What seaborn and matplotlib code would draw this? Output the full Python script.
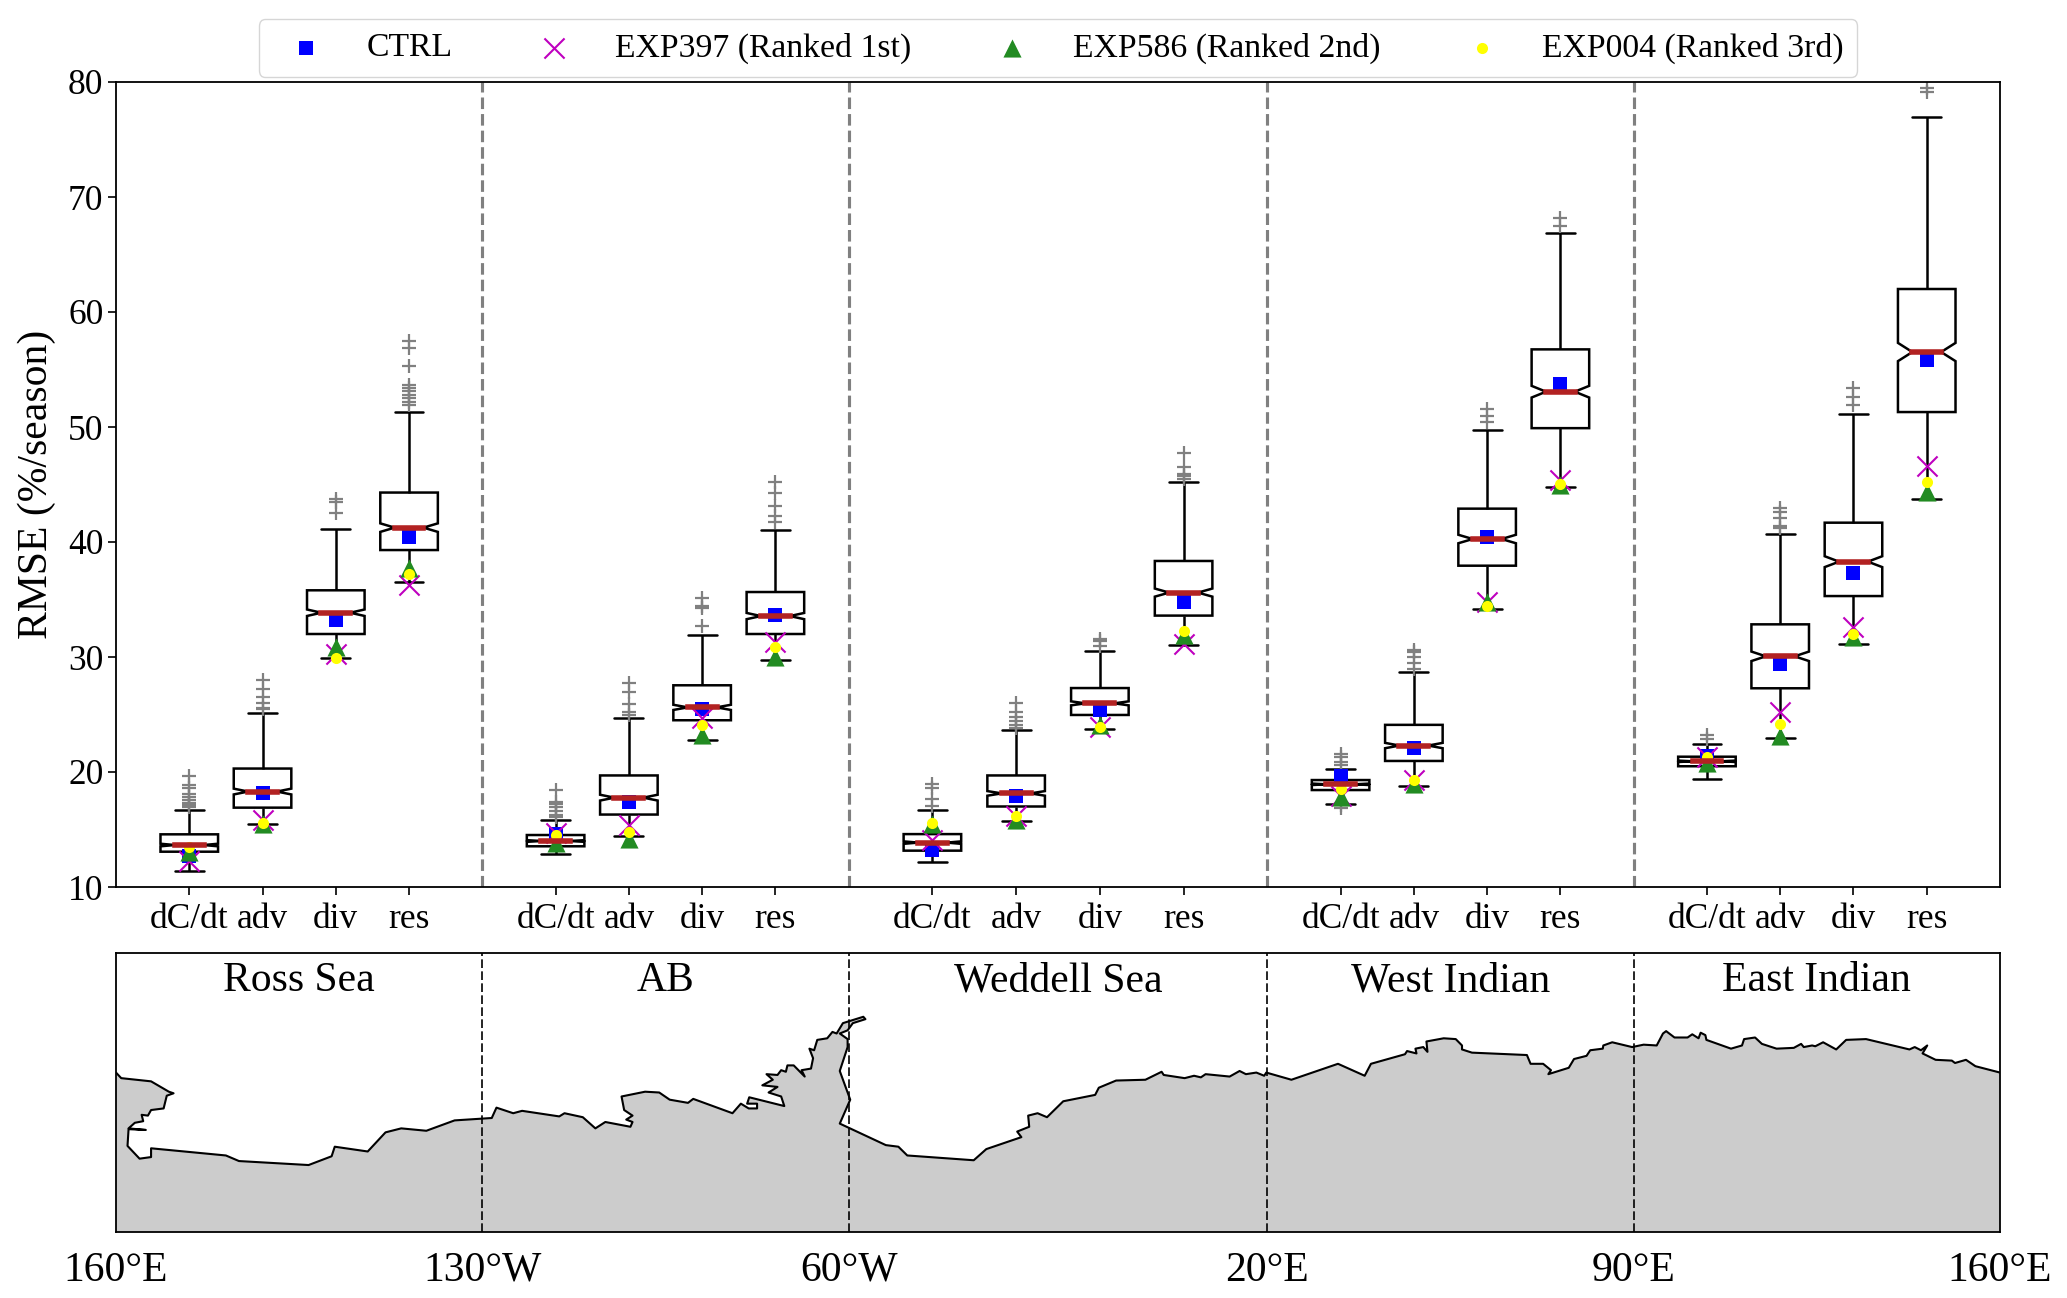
import numpy as np
import pandas as pd
import matplotlib
matplotlib.use("Agg")
import matplotlib.pyplot as plt
import seaborn as sns

sns.set_style("ticks", {"axes.edgecolor": "black", "xtick.color": "black", "ytick.color": "black",
                        "text.color": "black", "axes.labelcolor": "black"})
plt.rcParams['font.family'] = ['Liberation Serif', 'DejaVu Sans']

# longitude is counted in degrees east of 160E
region_edges = [0, 70, 140, 220, 290, 360]
region_names = ['Ross Sea', 'AB', 'Weddell Sea', 'West Indian', 'East Indian']
edge_labels = ['160°E', '130°W', '60°W', '20°E', '90°E', '160°E']
terms = ['dC/dt', 'adv', 'div', 'res']

# box statistics, four terms per region
whislo = [11.42, 15.5, 29.9, 36.55,  12.87, 14.43, 22.8, 29.7,
          12.14, 15.77, 23.7, 31.04,  17.25, 18.75, 34.17, 44.8,
          19.36, 23.0, 31.17, 43.7]
q1 = [13.07, 16.9, 32.0, 39.3,  13.54, 16.3, 24.5, 32.0,
      13.16, 17.0, 24.96, 33.6,  18.43, 20.96, 37.94, 49.9,
      20.5, 27.28, 35.3, 51.3]
median = [13.65, 18.3, 33.85, 41.25,  14.0, 17.77, 25.62, 33.56,
          13.86, 18.14, 25.97, 35.6,  18.93, 22.3, 40.26, 53.07,
          20.93, 30.06, 38.29, 56.52]
q3 = [14.58, 20.3, 35.8, 44.3,  14.52, 19.7, 27.54, 35.65,
      14.6, 19.7, 27.3, 38.35,  19.3, 24.1, 42.9, 56.75,
      21.33, 32.84, 41.68, 62.0]
whishi = [16.67, 25.16, 41.1, 51.27,  15.83, 24.7, 31.88, 41.05,
          16.7, 23.65, 30.5, 45.25,  20.26, 28.7, 49.74, 66.84,
          22.46, 40.67, 51.1, 77.0]
fliers = [
    [19.65, 18.9, 18.6, 18.06, 17.8, 17.57, 17.28, 17.1, 16.99],
    [28.0, 27.2, 26.55, 26.03, 25.54, 25.45],
    [43.74, 43.5, 42.5],
    [57.45, 56.87, 55.33, 53.68, 53.4, 53.1, 52.8, 52.52, 52.2, 51.94],
    [18.43, 17.36, 17.19, 16.98, 16.6, 16.26, 16.06],
    [27.7, 26.93, 25.9, 25.25, 24.96],
    [35.1, 34.43, 34.23, 32.7],
    [45.25, 44.3, 43.16, 42.3, 41.77],
    [19.0, 18.64, 17.62, 17.07],
    [26.0, 25.25, 24.8, 24.46, 24.1, 23.8],
    [31.6, 31.4, 30.96],
    [47.7, 46.55, 45.9, 45.7, 45.5],
    [21.57, 21.33, 20.9, 20.65, 17.1, 16.84],
    [30.6, 30.46, 30.03, 29.5, 29.0],
    [51.6, 51.0, 50.46],
    [68.14, 67.5],
    [23.2, 22.84],
    [42.93, 42.58, 42.1, 41.4, 41.25],
    [53.36, 52.64, 51.9],
    [79.45, 79.16],
]

ctrl = [12.7, 18.15, 33.2, 40.46,  14.6, 17.4, 25.45, 33.65,
        13.2, 17.9, 25.4, 34.8,  19.65, 22.1, 40.46, 53.7,
        21.4, 29.4, 37.33, 55.83]
exp397 = [12.3, 15.8, 30.3, 36.3,  14.67, 15.4, 24.7, 31.3,
          14.1, 16.17, 23.94, 31.1,  17.9, 19.3, 34.8, 45.4,
          21.3, 25.2, 32.58, 46.64]
exp586 = [13.07, 15.5, 30.9, 37.7,  13.8, 14.2, 23.2, 30.0,
          15.5, 15.8, 24.1, 31.9,  17.85, 19.0, 34.8, 44.95,
          20.75, 23.1, 31.77, 44.38]
exp004 = [13.5, 15.6, 29.95, 37.25,  14.5, 14.75, 24.1, 30.84,
          15.6, 16.17, 23.94, 32.3,  18.5, 19.3, 34.43, 45.04,
          21.33, 24.17, 31.97, 45.25]

# coastline, degrees east of 160E and latitude
coast_lon = [0.0, 1.0, 6.7, 10.1, 11.0, 9.7, 9.1, 6.7, 6.1, 4.9, 5.2, 3.6, 2.4, 5.7, 2.4, 2.2, 4.5, 6.7, 6.7,
             21.0, 23.5, 36.8, 41.2, 41.8, 48.1, 51.5, 54.5, 59.3, 64.7, 71.8, 72.7, 75.9, 77.6, 84.7, 85.7,
             89.2, 91.6, 93.5, 98.3, 98.7, 97.5, 98.7, 97.1, 96.6, 101.1, 103.8, 105.8, 109.3, 110.3, 117.8,
             119.4, 120.9, 122.5, 122.5, 120.6, 121.0, 127.7, 127.1, 124.7, 126.4, 123.5, 125.5, 124.3, 126.4,
             127.1, 128.0, 128.3, 129.5, 131.6, 131.0, 132.8, 133.2, 132.5, 133.4, 134.0, 135.9, 136.9, 137.7,
             138.9, 142.8, 143.2, 140.8, 139.8, 138.3, 139.8, 139.8, 138.3, 140.3, 138.3, 147.1, 149.5, 151.2,
             163.9, 166.3, 173.0, 172.2, 174.5, 174.3, 176.1, 177.9, 181.0, 187.1,
             187.8, 191.1, 196.7, 199.8, 200.2, 204.2, 206.0, 207.3, 208.2, 212.8, 214.7, 215.9, 217.9, 219.4,
             219.8, 224.6, 233.5, 238.6, 239.8, 246.3, 246.7, 248.5, 248.3, 249.8, 250.6, 250.4, 253.7, 256.0,
             257.2, 257.2, 259.1, 269.6, 270.3, 272.7, 274.2, 273.7, 277.6, 278.6, 281.0, 281.7, 284.1, 284.2,
             285.9, 289.7, 291.9, 294.4, 295.6, 296.2, 297.8, 300.3, 301.2, 302.4, 302.8, 303.7, 303.9, 308.6,
             310.7, 311.1, 313.2, 314.5, 317.3, 320.6, 322.0, 322.5, 324.1, 324.7, 326.2, 328.7, 330.6, 334.4,
             342.7, 343.7, 344.9, 346.1, 345.2, 347.7, 350.8, 351.4, 353.5, 355.3, 360.0]
coast_lat = [-70.0, -70.7, -71.1, -72.4, -72.6, -72.9, -74.5, -74.7, -75.4, -75.3, -76.1, -76.3, -77.0, -77.2, -77.1,
             -79.2, -80.8, -80.6, -79.5, -80.4, -81.1, -81.6, -80.5, -79.3, -79.9, -77.5, -77.0, -77.3, -76.0, -75.7,
             -74.4, -75.1, -74.8, -75.5, -75.1, -75.6, -77.0, -76.2, -76.8, -76.2, -75.9, -75.4, -74.7, -73.0, -72.4,
             -72.5, -73.4, -73.8, -73.3, -75.1, -73.9, -74.5, -74.5, -73.9, -73.9, -73.1, -74.2, -73.0, -72.5, -71.8,
             -71.6, -70.9, -70.2, -70.3, -69.7, -69.9, -69.1, -69.1, -70.5, -69.7, -69.5, -68.2, -67.0, -67.2, -65.9,
             -65.7, -64.9, -65.1, -63.8, -63.0, -63.3, -63.8, -64.7, -65.1, -65.8, -66.8, -69.8, -73.4, -76.4, -79.1,
             -79.3, -80.4, -81.0, -79.6, -78.1, -77.4, -76.8, -75.4, -75.1, -75.6, -73.6, -72.8,
             -71.9, -71.0, -70.9, -69.9, -70.3, -70.7, -70.4, -70.6, -70.2, -70.5, -69.8, -70.2, -70.0, -70.4,
             -70.0, -70.9, -68.9, -70.4, -68.9, -67.7, -67.3, -67.6, -67.0, -66.8, -67.4, -66.1, -65.7, -65.8,
             -66.6, -67.1, -67.5, -67.8, -68.9, -68.9, -69.7, -70.2, -69.4, -68.3, -67.9, -67.2, -67.0, -66.6,
             -66.2, -66.8, -66.5, -66.6, -65.1, -64.8, -65.6, -65.6, -65.2, -65.7, -65.0, -65.3, -65.9, -67.0,
             -66.6, -65.8, -65.6, -66.4, -67.0, -66.9, -66.4, -66.8, -66.6, -66.7, -66.2, -67.1, -65.9, -65.8,
             -67.1, -66.8, -67.2, -66.6, -67.6, -68.4, -68.5, -68.8, -68.4, -69.2, -70.0]


def box_sample(lo, a, m, b, hi, out, half=112):
    # a sample whose quartiles and whiskers land on the values
    upper = [hi] + list(out)
    return [lo] + [a] * half + [m] * half + [b] * half + upper + [b] * (half - len(upper))


# four terms sit evenly inside each region
positions = []
for left, right in zip(region_edges[:-1], region_edges[1:]):
    positions += [left + (right - left) / 5 * k for k in range(1, 5)]

rows = []
for i, pos in enumerate(positions):
    values = box_sample(whislo[i], q1[i], median[i], q3[i], whishi[i], fliers[i])
    rows.append(pd.DataFrame({'lon': pos, 'rmse': values}))
df = pd.concat(rows, ignore_index=True)

W, H = 2067, 1298
fig = plt.figure(figsize=(W / 100, H / 100), dpi=100)
ax = fig.add_axes([116 / W, 1 - 887 / H, 1884 / W, 805 / H])
ax2 = fig.add_axes([116 / W, 1 - 1232 / H, 1884 / W, 279 / H])

sns.boxplot(data=df, x='lon', y='rmse', native_scale=True, width=11 / 14, notch=True,
            color='white', linecolor='black', linewidth=1.8, ax=ax,
            flierprops=dict(marker='+', markeredgecolor='gray', markersize=9.5, markeredgewidth=1.6),
            medianprops=dict(color='firebrick', linewidth=4, solid_capstyle='projecting', zorder=8))

sns.scatterplot(x=positions, y=ctrl, marker='s', color='b', s=115, linewidth=0, zorder=4, label='CTRL', ax=ax)
sns.scatterplot(x=positions, y=exp397, marker='x', color='m', s=210, linewidth=1.5, zorder=5,
                label='EXP397 (Ranked 1st)', ax=ax)
sns.scatterplot(x=positions, y=exp586, marker='^', color='forestgreen', s=170, linewidth=0, zorder=6,
                label='EXP586 (Ranked 2nd)', ax=ax)
sns.scatterplot(x=positions, y=exp004, marker='o', color='yellow', s=64, linewidth=0, zorder=7,
                label='EXP004 (Ranked 3rd)', ax=ax)

for edge in region_edges[1:-1]:
    ax.axvline(edge, color='gray', linestyle='--', linewidth=2.25, zorder=1)

ax.set_xlim(0, 360)
ax.set_ylim(10, 80)
ax.set_yticks(range(10, 81, 10))
ax.set_xticks(positions)
ax.set_xticklabels(terms * 5)
ax.tick_params(axis='both', labelsize=25.5, length=5.5, width=1.2)
ax.tick_params(axis='x', pad=6)
ax.set_xlabel('')
ax.set_ylabel('RMSE (%/season)', fontsize=30)
ax.yaxis.set_label_coords(-0.032, 0.5)
for s in ax.spines.values():
    s.set_visible(True)
    s.set_linewidth(1.3)
ax.legend(ncol=4, fontsize=24.3, loc='lower center', bbox_to_anchor=(0.5, 1.006), borderaxespad=0)

# coast panel
ax2.fill(coast_lon + [360, 0], coast_lat + [-90, -90], color='#cccccc', linewidth=0, zorder=1)
sns.lineplot(x=coast_lon, y=coast_lat, sort=False, estimator=None, color='black', linewidth=1.5, ax=ax2, zorder=2)
for edge in region_edges[1:-1]:
    ax2.axvline(edge, color='black', linestyle=(0, (5.2, 2)), linewidth=1.2, zorder=3)
for left, right, name in zip(region_edges[:-1], region_edges[1:], region_names):
    ax2.text((left + right) / 2, 0.9, name, fontsize=30, ha='center', va='center',
             transform=ax2.get_xaxis_transform())
ax2.set_xlim(0, 360)
ax2.set_ylim(-90, -55)
ax2.set_yticks([])
ax2.set_xticks(region_edges)
ax2.set_xticklabels(edge_labels)
ax2.tick_params(axis='x', labelsize=30, length=0, pad=14)
for s in ax2.spines.values():
    s.set_visible(True)
    s.set_linewidth(1.3)

fig.savefig('out.png', dpi=100)
